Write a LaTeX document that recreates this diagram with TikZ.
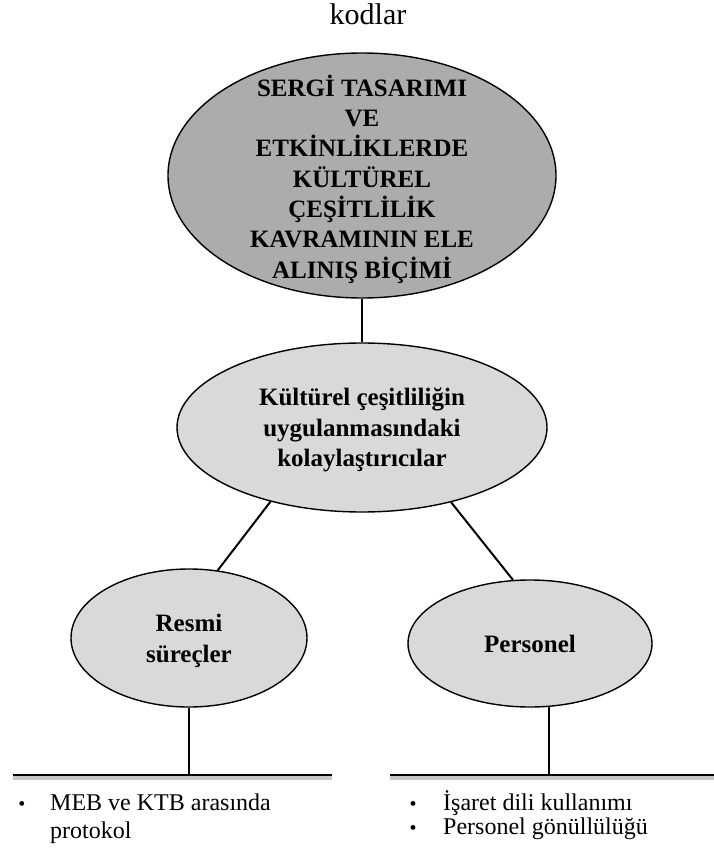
\documentclass[tikz,border=0pt]{standalone}
\usepackage{fontspec}
\setmainfont{Liberation Serif}
\usetikzlibrary{shapes.geometric}
\definecolor{topgray}{RGB}{172,172,172}
\definecolor{subgray}{RGB}{217,217,217}
\begin{document}
\begin{tikzpicture}[x=1pt,y=-1pt,
  bubble/.style={ellipse, draw=black, line width=1.4pt, inner sep=0pt},
  conn/.style={draw=black, line width=2pt},
  boldtxt/.style={font=\fontsize{25}{30.3}\selectfont\bfseries, align=center, inner sep=0pt},
  itemtxt/.style={font=\fontsize{24}{28}\selectfont, anchor=base west, inner sep=0pt},
  dot/.style={font=\fontsize{20}{20}\selectfont, anchor=base, inner sep=0pt},
  shelf/.style={draw=black, line width=2pt},
  shelfshadow/.style={draw=black!22, line width=3.5pt},
]
\useasboundingbox (0,0) rectangle (714,851);

% heading
\node[font=\fontsize{30}{30}\selectfont, anchor=base, inner sep=0pt] (title) at (368,25) {kodlar};

% main concept
\node[bubble, fill=topgray, minimum width=388, minimum height=245] (concept) at (362,175.5) {};
\node[boldtxt] (concepttxt) at (362,179) {SERGİ TASARIMI\\VE\\ETKİNLİKLERDE\\KÜLTÜREL\\ÇEŞİTLİLİK\\KAVRAMININ ELE\\ALINIŞ BİÇİMİ};

% facilitators
\node[bubble, fill=subgray, minimum width=370, minimum height=169] (facil) at (362,427.5) {};
\node[boldtxt] (faciltxt) at (362,430) {Kültürel çeşitliliğin\\uygulanmasındaki\\kolaylaştırıcılar};

% sub categories
\node[bubble, fill=subgray, minimum width=236, minimum height=138] (formal) at (189,638) {};
\node[boldtxt] (formaltxt) at (189,641) {Resmi\\süreçler};
\node[bubble, fill=subgray, minimum width=244, minimum height=127] (staff) at (530,643.5) {};
\node[boldtxt] (stafftxt) at (530,644) {Personel};

% connectors between bubbles
\draw[conn] (concept.south) -- (facil.north);
\draw[conn] (facil.219.7) -- (formal.67.9);
\draw[conn] (facil.320.9) -- (staff.105);

% shelves under the sub categories
\coordinate (lsL) at (13,775);
\coordinate (lsR) at (332,775);
\coordinate (rsL) at (390,775);
\coordinate (rsR) at (714,775);
\draw[shelfshadow] ([yshift=-3pt]lsL) -- ([yshift=-3pt]lsR);
\draw[shelfshadow] ([yshift=-3pt]rsL) -- ([yshift=-3pt]rsR);
\draw[shelf] (lsL) -- (lsR);
\draw[shelf] (rsL) -- (rsR);
\draw[conn] (formal.south) -- (formal.south |- lsL);
\draw[conn] (staff.287) -- (staff.287 |- rsL);

% items
\node[dot] (d1) at (22,810) {•};
\node[itemtxt] (i1) at (50,810) {MEB ve KTB arasında};
\node[itemtxt] (i1b) at (50,838) {protokol};
\node[dot] (d2) at (413,810) {•};
\node[itemtxt] (i2) at (443,810) {İşaret dili kullanımı};
\node[dot] (d3) at (413,834) {•};
\node[itemtxt] (i3) at (443,834) {Personel gönüllülüğü};
\end{tikzpicture}
\end{document}
